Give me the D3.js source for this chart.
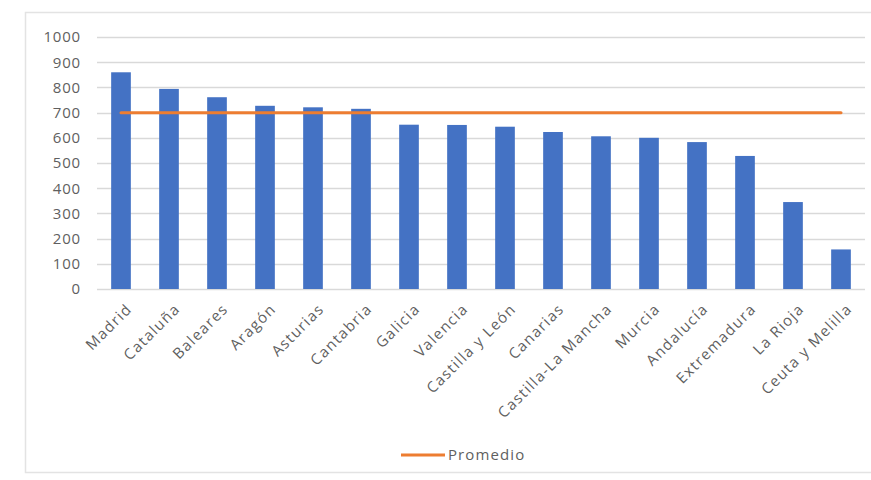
<!DOCTYPE html>
<html>
<head>
<meta charset="utf-8">
<script src="https://cdn.jsdelivr.net/npm/d3@7/dist/d3.min.js"></script>
<style>
  html, body { margin: 0; padding: 0; background: #ffffff; }
  svg { display: block; }
  text { font-family: "Open Sans", "Liberation Sans", sans-serif; fill: #5f5f5f; }
</style>
</head>
<body>
<svg id="chart" width="871" height="480"></svg>
<script>
// Regions (comunidades autónomas) and their values
const categories = ["Madrid", "Cataluña", "Baleares", "Aragón", "Asturias", "Cantabria", "Galicia",
  "Valencia", "Castilla y León", "Canarias", "Castilla-La Mancha", "Murcia", "Andalucía",
  "Extremadura", "La Rioja", "Ceuta y Melilla"];
const values = [860, 794, 761, 727, 721, 715, 652, 651, 644, 623, 606, 600, 583, 528, 345, 157];
const promedio = 699;
const yTicks = [0, 100, 200, 300, 400, 500, 600, 700, 800, 900, 1000];
const legendLabel = "Promedio";

const svg = d3.select("#chart");
const plot = { left: 97, right: 865, top: 37, bottom: 289 };
const labelFont = "'Open Sans', 'Liberation Sans', sans-serif";

// Outer chart frame
svg.append("rect")
  .attr("x", 25.5).attr("y", 12.5)
  .attr("width", 860).attr("height", 460)
  .attr("fill", "#ffffff")
  .attr("stroke", "#e3e3e3").attr("stroke-width", 1.5);

const x = d3.scaleBand().domain(categories).range([plot.left, plot.right]).paddingInner(0.59).paddingOuter(0.295);
const y = d3.scaleLinear().domain([0, 1000]).range([plot.bottom, plot.top]);

// Horizontal gridlines
svg.append("g")
  .selectAll("line")
  .data(yTicks)
  .join("line")
  .attr("x1", plot.left).attr("x2", plot.right)
  .attr("y1", d => Math.round(y(d)) + 0.5).attr("y2", d => Math.round(y(d)) + 0.5)
  .attr("stroke", "#d9d9d9").attr("stroke-width", 1.3);

// Y axis labels
const yAxis = d3.axisLeft(y).tickValues(yTicks).tickFormat(d3.format("d")).tickSize(0).tickPadding(0);
const gy = svg.append("g").attr("transform", `translate(81,0)`).call(yAxis);
gy.select(".domain").remove();
gy.selectAll("text")
  .style("font-family", labelFont)
  .style("font-size", "15px")
  .style("letter-spacing", "0.8px")
  .attr("fill", "#5f5f5f");

// Bars
svg.append("g")
  .selectAll("rect")
  .data(categories)
  .join("rect")
  .attr("x", d => x(d))
  .attr("width", x.bandwidth())
  .attr("y", (d, i) => y(values[i]))
  .attr("height", (d, i) => y(0) - y(values[i]))
  .attr("fill", "#4472c4");

// X axis labels, rotated
const xAxis = d3.axisBottom(x).tickSize(0).tickPadding(0);
const gx = svg.append("g").attr("transform", `translate(0,${plot.bottom})`).call(xAxis);
gx.select(".domain").remove();
gx.selectAll("text")
  .style("font-family", labelFont)
  .style("font-size", "15px")
  .style("letter-spacing", "1.3px")
  .attr("fill", "#5f5f5f")
  .attr("text-anchor", "end")
  .attr("y", 0)
  .attr("dy", null)
  .attr("transform", "translate(12,21) rotate(-45)");

// Average line across the category centres
const line = d3.line()
  .x(d => x(d) + x.bandwidth() / 2)
  .y(() => y(promedio));
svg.append("path")
  .datum(categories)
  .attr("d", line)
  .attr("fill", "none")
  .attr("stroke", "#ed7d31")
  .attr("stroke-width", 3)
  .attr("stroke-linecap", "round");

// Legend
const lg = svg.append("g").attr("transform", "translate(401,455)");
lg.append("line").attr("x1", 0).attr("x2", 44).attr("y1", 0).attr("y2", 0)
  .attr("stroke", "#ed7d31").attr("stroke-width", 3);
lg.append("text").attr("x", 47).attr("y", 0).attr("dy", "0.35em")
  .style("font-size", "15px").style("letter-spacing", "1.1px").text(legendLabel);
</script>
</body>
</html>
